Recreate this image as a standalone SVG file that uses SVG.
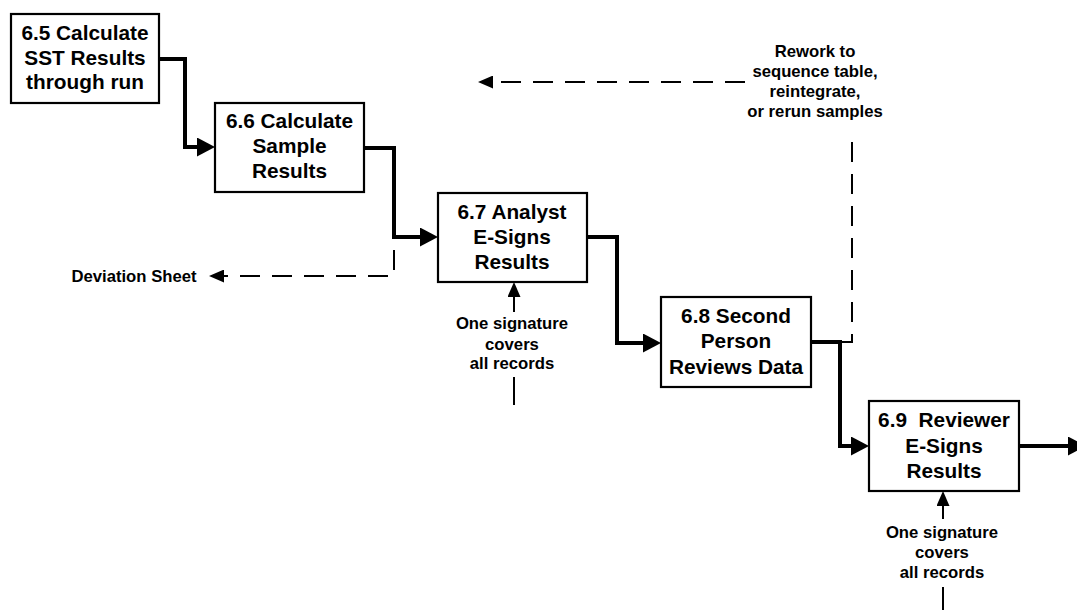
<svg xmlns="http://www.w3.org/2000/svg" width="1077" height="610" viewBox="0 0 1077 610">
  <style>
    text { font-family: "Liberation Sans", Arial, sans-serif; font-weight: bold; fill: #000; text-anchor: middle; white-space: pre; }
    .box rect { fill: #fff; stroke: #000; stroke-width: 2.2; }
    .box text { font-size: 20.8px; }
    .note { font-size: 16.7px; }
    .flow { fill: none; stroke: #000; stroke-width: 4; stroke-linejoin: miter; }
    .dash { fill: none; stroke: #000; stroke-width: 2; stroke-dasharray: 20 12; }
    .thin { fill: none; stroke: #000; stroke-width: 2; }
  </style>
  <defs>
    <marker id="headBig" markerUnits="userSpaceOnUse" viewBox="0 0 18 19" markerWidth="18" markerHeight="19" refX="0" refY="9.5" orient="auto">
      <path d="M0,0 L18,9.5 L0,19 z" fill="#000"/>
    </marker>
    <marker id="headSmall" markerUnits="userSpaceOnUse" viewBox="0 0 15 13" markerWidth="15" markerHeight="13" refX="0" refY="6.5" orient="auto">
      <path d="M0,0 L15,6.5 L0,13 z" fill="#000"/>
    </marker>
  </defs>

  <!-- connectors -->
  <g id="connectors">
    <path class="flow" d="M157,59 H185 V147 H197" marker-end="url(#headBig)"/>
    <path class="flow" d="M362,148 H394 V237 H420" marker-end="url(#headBig)"/>
    <path class="flow" d="M585,237 H617 V343 H643" marker-end="url(#headBig)"/>
    <path class="flow" d="M809,342 H840 V446 H851" marker-end="url(#headBig)"/>
    <path class="flow" d="M1017,446 H1068" marker-end="url(#headBig)"/>

    <!-- deviation branch -->
    <path class="dash" d="M394,250 V276 H224" stroke-dasharray="26 12" marker-end="url(#headSmall)"/>
    <!-- rework loop -->
    <path class="dash" d="M840,342 H852 V133"/>
    <path class="dash" d="M745,82 H493" marker-end="url(#headSmall)"/>

    <!-- signature inputs -->
    <path class="thin" d="M514,312 V297" marker-end="url(#headSmall)"/>
    <path class="thin" d="M514,377 V405"/>
    <path class="thin" d="M943,519 V506" marker-end="url(#headSmall)"/>
    <path class="thin" d="M943,587 V610"/>
  </g>

  <g id="n65" class="box">
    <rect x="11" y="14" width="148" height="89"/>
    <text x="85" y="40">6.5 Calculate</text>
    <text x="85" y="65">SST Results</text>
    <text x="85" y="89">through run</text>
  </g>

  <g id="n66" class="box">
    <rect x="215" y="103" width="149" height="89"/>
    <text x="289.5" y="128">6.6 Calculate</text>
    <text x="289.5" y="153">Sample</text>
    <text x="289.5" y="178">Results</text>
  </g>

  <g id="n67" class="box">
    <rect x="438" y="193" width="149" height="89"/>
    <text x="512" y="219">6.7 Analyst</text>
    <text x="512" y="244">E-Signs</text>
    <text x="512" y="269">Results</text>
  </g>

  <g id="n68" class="box">
    <rect x="661" y="297" width="150" height="90"/>
    <text x="736" y="323">6.8 Second</text>
    <text x="736" y="348">Person</text>
    <text x="736" y="374">Reviews Data</text>
  </g>

  <g id="n69" class="box">
    <rect x="869" y="401" width="150" height="90"/>
    <text x="944" y="427">6.9  Reviewer</text>
    <text x="944" y="453">E-Signs</text>
    <text x="944" y="478">Results</text>
  </g>

  <g id="deviation">
    <text class="note" x="134" y="282">Deviation Sheet</text>
  </g>

  <g id="rework">
    <text class="note" x="815" y="57">Rework to</text>
    <text class="note" x="815" y="77">sequence table,</text>
    <text class="note" x="815" y="97">reintegrate,</text>
    <text class="note" x="815" y="117">or rerun samples</text>
  </g>

  <g id="sig67">
    <text class="note" x="512" y="329">One signature</text>
    <text class="note" x="512" y="350">covers</text>
    <text class="note" x="512" y="369">all records</text>
  </g>

  <g id="sig69">
    <text class="note" x="942" y="538">One signature</text>
    <text class="note" x="942" y="558">covers</text>
    <text class="note" x="942" y="578">all records</text>
  </g>
</svg>
